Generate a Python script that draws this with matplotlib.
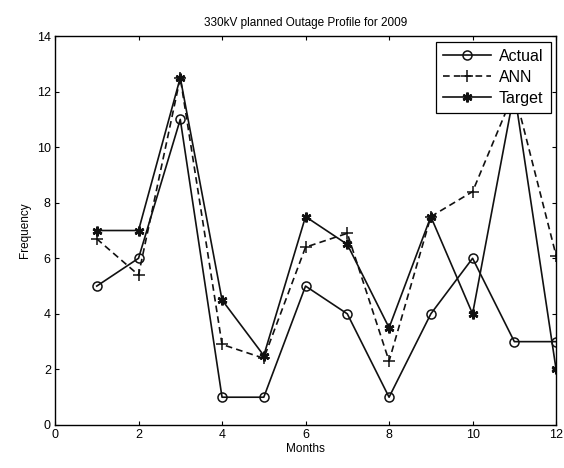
import matplotlib.pyplot as plt

months = [1, 2, 3, 4, 5, 6, 7, 8, 9, 10, 11, 12]
actual = [5, 6, 11, 1, 1, 5, 4, 1, 4, 6, 3, 3]
ann = [6.7, 5.4, 12.5, 2.9, 2.4, 6.4, 6.9, 2.3, 7.5, 8.4, 12.0, 6.1]
target = [7, 7, 12.5, 4.5, 2.5, 7.5, 6.5, 3.5, 7.5, 4, 12.0, 2]

plt.rcParams['font.family'] = ['Liberation Sans', 'DejaVu Sans']

fig = plt.figure(figsize=(5.64, 4.68), dpi=100)
ax = fig.add_axes([0.0975, 0.0919, 0.8885, 0.8311])

c = '#111111'
ax.plot(months, actual, color=c, lw=1.2, marker='o', ms=6.5,
        mfc='none', mec=c, mew=1.1, label='Actual')
ax.plot(months, ann, color=c, lw=1.2, ls=(0, (4, 2.5)), marker='+', ms=8,
        mew=1.1, label='ANN')
ax.plot(months, target, color=c, lw=1.2, marker=(6, 2, 0), ms=7,
        mew=1.8, label='Target')

ax.set_xlim(0, 12)
ax.set_ylim(0, 14)
ax.set_xticks(range(0, 13, 2))
ax.set_yticks(range(0, 15, 2))
ax.tick_params(direction='in', top=True, right=True, labelsize=9,
               length=3, width=0.8, pad=3)
for s in ax.spines.values():
    s.set_linewidth(1.0)

ax.set_title('330kV planned Outage Profile for 2009', fontsize=8.5, pad=7)
ax.set_xlabel('Months', fontsize=8.5, labelpad=1)
ax.set_ylabel('Frequency', fontsize=8.5, labelpad=4)

leg = ax.legend(loc='upper right', fontsize=11.5, fancybox=False,
                edgecolor='black', framealpha=1, borderaxespad=0.35,
                handlelength=3.0, labelspacing=0.38, borderpad=0.45,
                handletextpad=0.5)
leg.get_frame().set_linewidth(0.9)

fig.savefig('out.png', dpi=100)
